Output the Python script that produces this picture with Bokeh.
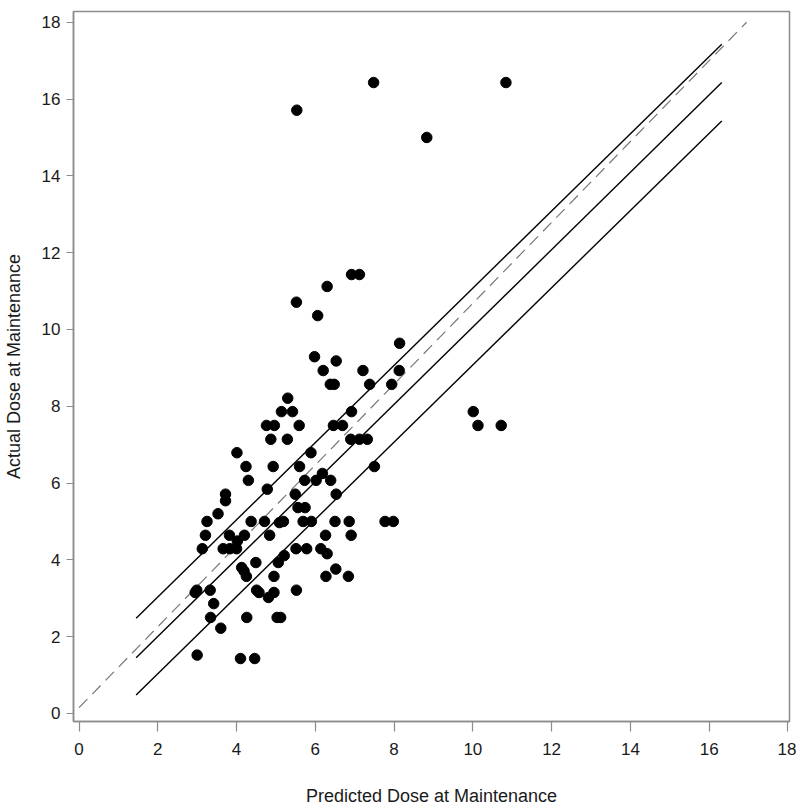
from bokeh.plotting import figure
from bokeh.models import Range1d, FixedTicker
from bokeh.embed import file_html
from bokeh.resources import INLINE

# Predicted vs actual maintenance dose (mg/day)
predicted = [10.84, 7.48, 5.53, 8.83, 6.92, 7.12, 6.30, 5.52, 6.06, 8.14,
             5.98, 6.53, 6.20, 7.21, 8.13, 6.38, 6.48, 7.38, 7.94, 5.30,
             5.14, 5.42, 6.92, 4.76, 4.96, 5.59, 6.46, 6.69, 4.87, 5.29,
             6.90, 7.12, 7.32, 4.01, 5.89, 4.24, 4.93, 5.60, 7.50, 4.30,
             5.73, 6.02, 6.18, 6.39, 4.78, 3.72, 3.72, 5.49, 6.53, 5.56,
             5.74, 3.53, 3.25, 4.37, 4.71, 5.09, 5.19, 5.69, 5.90, 6.50,
             6.86, 7.77, 7.98, 3.21, 3.82, 4.20, 4.84, 6.26, 6.91, 4.02,
             3.13, 3.66, 3.83, 4.00, 5.51, 5.78, 6.14, 6.30, 5.21, 5.06,
             4.49, 4.13, 4.19, 6.52, 4.25, 4.95, 6.27, 6.84, 2.99, 2.95,
             3.33, 4.51, 4.57, 5.52, 4.95, 4.81, 3.42, 3.34, 4.26, 5.03,
             5.12, 3.60, 3.00, 4.10, 4.46, 10.01, 10.13, 10.72]
actual = [16.43, 16.43, 15.71, 15.00, 11.43, 11.43, 11.12, 10.71, 10.36, 9.64,
          9.29, 9.18, 8.93, 8.93, 8.93, 8.57, 8.57, 8.57, 8.57, 8.21,
          7.86, 7.86, 7.86, 7.50, 7.50, 7.50, 7.50, 7.50, 7.14, 7.14,
          7.14, 7.14, 7.14, 6.79, 6.79, 6.43, 6.43, 6.43, 6.43, 6.07,
          6.07, 6.07, 6.25, 6.07, 5.84, 5.71, 5.54, 5.71, 5.71, 5.36,
          5.36, 5.20, 5.00, 5.00, 5.00, 4.97, 5.00, 5.00, 5.00, 5.00,
          5.00, 5.00, 5.00, 4.64, 4.64, 4.64, 4.64, 4.64, 4.64, 4.49,
          4.29, 4.29, 4.29, 4.29, 4.29, 4.29, 4.29, 4.16, 4.11, 3.93,
          3.93, 3.80, 3.71, 3.76, 3.57, 3.57, 3.57, 3.57, 3.21, 3.15,
          3.21, 3.21, 3.15, 3.21, 3.15, 3.02, 2.86, 2.50, 2.50, 2.50,
          2.50, 2.22, 1.52, 1.43, 1.43, 7.86, 7.50, 7.50]

# reference lines: identity and +/- 1 mg band over observed range
ref_x = [1.45, 16.32]
ref_y = [1.45, 16.43]
upper_y = [2.48, 17.43]
lower_y = [0.48, 15.43]
# fitted line (dashed)
fit_x = [0.0, 16.95]
fit_y = [0.15, 18.0]

ticks = [0, 2, 4, 6, 8, 10, 12, 14, 16, 18]

FONT = "Liberation Sans"
GRAY = "#8c8c8c"

p = figure(width=796, height=808, output_backend="svg", toolbar_location=None,
           x_range=Range1d(-0.14, 18.04), y_range=Range1d(-0.21, 18.28),
           min_border_left=73, min_border_right=7, min_border_top=11,
           min_border_bottom=87)

p.xgrid.visible = False
p.ygrid.visible = False
p.outline_line_color = GRAY
p.outline_line_width = 1.5
p.background_fill_color = "white"
p.border_fill_color = "white"

for ax in (p.xaxis[0], p.yaxis[0]):
    ax.ticker = FixedTicker(ticks=ticks)
    ax.axis_line_color = GRAY
    ax.axis_line_width = 1.5
    ax.major_tick_line_color = GRAY
    ax.major_tick_line_width = 1.2
    ax.minor_tick_line_color = None
    ax.major_tick_in = 0
    ax.major_label_text_font = FONT
    ax.major_label_text_font_size = "17px"
    ax.major_label_text_color = "#1a1a1a"
    ax.axis_label_text_font = FONT
    ax.axis_label_text_font_size = "18px"
    ax.axis_label_text_font_style = "normal"
    ax.axis_label_text_color = "#1a1a1a"

p.xaxis[0].major_tick_out = 10
p.xaxis[0].major_label_standoff = 11
p.xaxis[0].axis_label = "Predicted Dose at Maintenance"
p.xaxis[0].axis_label_standoff = 28

p.yaxis[0].major_tick_out = 7
p.yaxis[0].major_label_standoff = 6
p.yaxis[0].axis_label = "Actual Dose at Maintenance"
p.yaxis[0].axis_label_standoff = 15

p.line(fit_x, fit_y, line_color="#777777", line_width=1.2, line_dash="12 7")
p.line(ref_x, ref_y, line_color="black", line_width=1.4)
p.line(ref_x, upper_y, line_color="black", line_width=1.4)
p.line(ref_x, lower_y, line_color="black", line_width=1.4)

p.scatter(predicted, actual, marker="circle", size=10.5,
          fill_color="black", line_color="black")

open("out.html", "w").write(file_html(p, INLINE))
